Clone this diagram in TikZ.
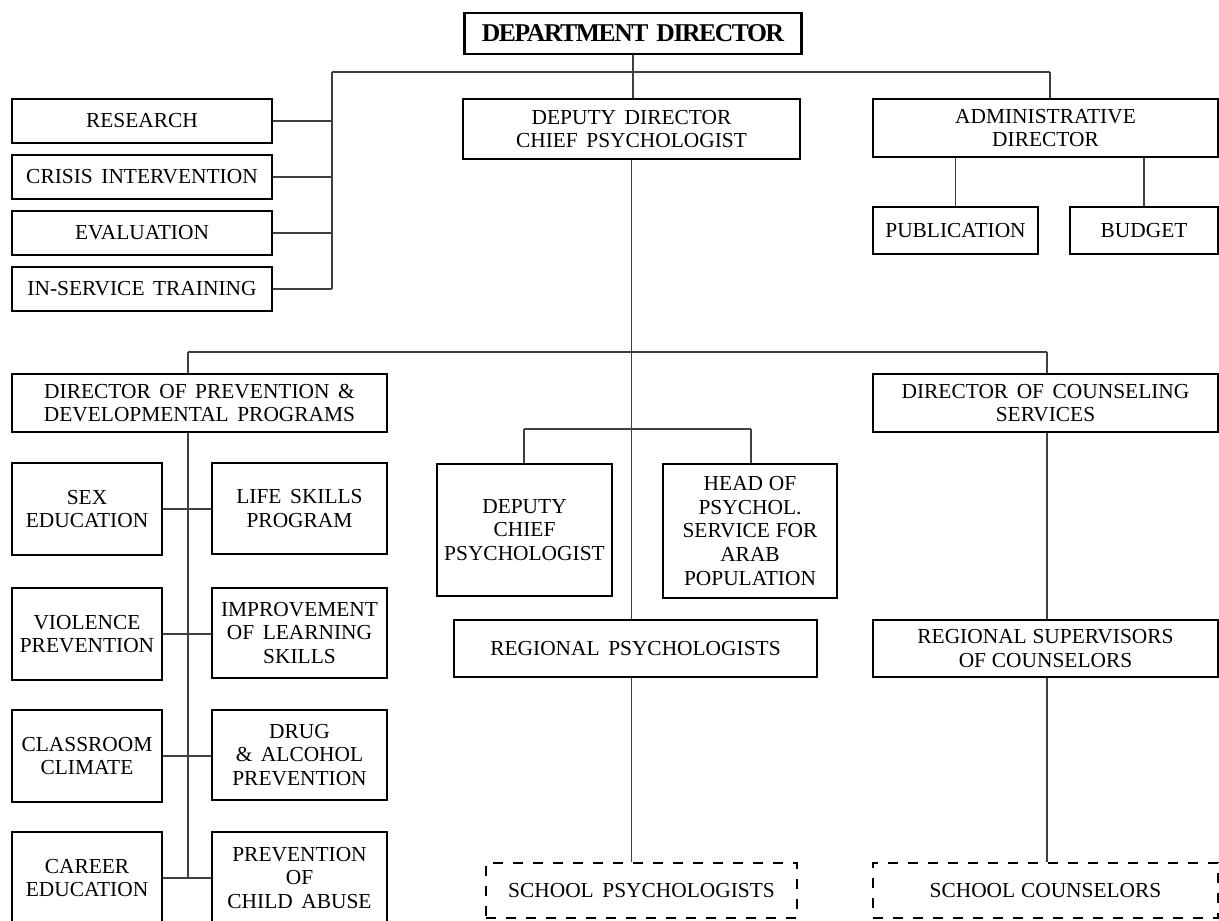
\documentclass[tikz,border=0pt]{standalone}
\usepackage{fontspec}
\setmainfont{Liberation Serif}[WordSpace=1.6]
\newcommand\narrowsp{\spaceskip=0.27em plus 0.1em\relax}

\begin{document}
\begin{tikzpicture}[
  x=0.5pt, y=-0.5pt,
  box/.style={draw, line width=1.1pt, align=center, inner sep=1pt, fill=white,
    font=\fontsize{10.7pt}{11.9pt}\selectfont},
  sz/.style 2 args={minimum width=#1*0.5pt, minimum height=#2*0.5pt},
  narrow/.style={font=\fontsize{10.7pt}{11.9pt}\selectfont\narrowsp},
  dbox/.style={box, dash pattern=on 5pt off 5pt},
  head/.style={box, font=\bfseries\fontsize{12.8pt}{14pt}\selectfont\addfontfeature{LetterSpace=-5.5}},
  link/.style={draw=black!75, line width=0.6pt}
]
\useasboundingbox (0,0) rectangle (1219,920);

% top level
\node[head, sz={337}{41}] (dept) at (633,33.5) {DEPARTMENT DIRECTOR};
\node[box, sz={337}{60}] (deputy) at (631.5,129) {DEPUTY DIRECTOR\\CHIEF PSYCHOLOGIST};
\node[box, sz={345}{58}] (admin) at (1045.5,128) {ADMINISTRATIVE\\DIRECTOR};
\node[box, sz={165}{47}] (pub) at (955.5,230.5) {PUBLICATION};
\node[box, sz={148}{47}] (budget) at (1144,230.5) {BUDGET};

\node[box, sz={260}{44}] (research) at (142,121) {RESEARCH};
\node[box, sz={260}{44}] (crisis) at (142,177) {CRISIS INTERVENTION};
\node[box, sz={260}{44}] (evaluation) at (142,233) {EVALUATION};
\node[box, sz={260}{44}] (inservice) at (142,289) {IN-SERVICE TRAINING};

% prevention branch
\node[box, sz={375}{58}] (prevdir) at (199.5,403) {DIRECTOR OF PREVENTION \&\\DEVELOPMENTAL PROGRAMS};
\node[box, sz={150}{92}] (sex) at (87,509) {SEX\\EDUCATION};
\node[box, sz={175}{91}] (life) at (299.5,508.5) {LIFE SKILLS\\PROGRAM};
\node[box, sz={150}{92}] (violence) at (87,634) {VIOLENCE\\PREVENTION};
\node[box, sz={175}{90}] (learning) at (299.5,633) {IMPROVEMENT\\OF LEARNING\\SKILLS};
\node[box, sz={150}{92}] (climate) at (87,756) {CLASSROOM\\CLIMATE};
\node[box, sz={175}{90}] (drug) at (299.5,755) {DRUG\\\& ALCOHOL\\PREVENTION};
\node[box, sz={150}{92}] (career) at (87,878) {CAREER\\EDUCATION};
\node[box, sz={175}{92}] (abuse) at (299.5,878) {PREVENTION\\OF\\CHILD ABUSE};

% psychologists branch
\node[box, sz={175}{132}] (dchief) at (524.5,530) {DEPUTY\\CHIEF\\PSYCHOLOGIST};
\node[box, narrow, sz={174}{134}] (arab) at (750,531) {HEAD OF\\PSYCHOL.\\SERVICE FOR\\ARAB\\POPULATION};
\node[box, sz={363}{57}] (regpsy) at (635.5,648.5) {REGIONAL PSYCHOLOGISTS};
\node[dbox, sz={311}{55}] (schpsy) at (641.5,890.5) {SCHOOL PSYCHOLOGISTS};

% counseling branch
\node[box, sz={345}{58}] (counsdir) at (1045.5,403) {DIRECTOR OF COUNSELING\\SERVICES};
\node[box, narrow, sz={345}{57}] (regsup) at (1045.5,648.5) {REGIONAL SUPERVISORS\\OF COUNSELORS};
\node[dbox, narrow, sz={345}{55}] (schcou) at (1045.5,890.5) {SCHOOL COUNSELORS};

\coordinate (tl) at (332,72);
\coordinate (tr) at (1050,72);
\coordinate (ml) at (188,352);
\coordinate (mr) at (1047,352);
\coordinate (sl) at (524,429);
\coordinate (sr) at (751,429);

\draw[link] (dept.south) -- (dept.south |- deputy.north);
\draw[link] (tl) -- (tr);
\draw[link] (tr) -- (tr |- admin.north);
\draw[link] (tl) -- (tl |- inservice.east);
\foreach \n in {research,crisis,evaluation,inservice}
  \draw[link] (\n.east) -- (\n.east -| tl);
\draw[link] (pub.north) -- (pub.north |- admin.south);
\draw[link] (budget.north) -- (budget.north |- admin.south);

\draw[link] (deputy.south) -- (deputy.south |- regpsy.north);
\draw[link] (ml) -- (mr);
\draw[link] (ml) -- (ml |- prevdir.north);
\draw[link] (mr) -- (mr |- counsdir.north);
\draw[link] (ml |- prevdir.south) -- (ml |- career.east);
\foreach \a/\b in {sex/life,violence/learning,climate/drug,career/abuse}
  \draw[link] (\a.east) -- (\a.east -| \b.west);

\draw[link] (sl) -- (sr);
\draw[link] (sl) -- (sl |- dchief.north);
\draw[link] (sr) -- (sr |- arab.north);
\draw[link] (deputy.south |- regpsy.south) -- (deputy.south |- schpsy.north);

\draw[link] (mr |- counsdir.south) -- (mr |- regsup.north);
\draw[link] (mr |- regsup.south) -- (mr |- schcou.north);
\end{tikzpicture}
\end{document}
